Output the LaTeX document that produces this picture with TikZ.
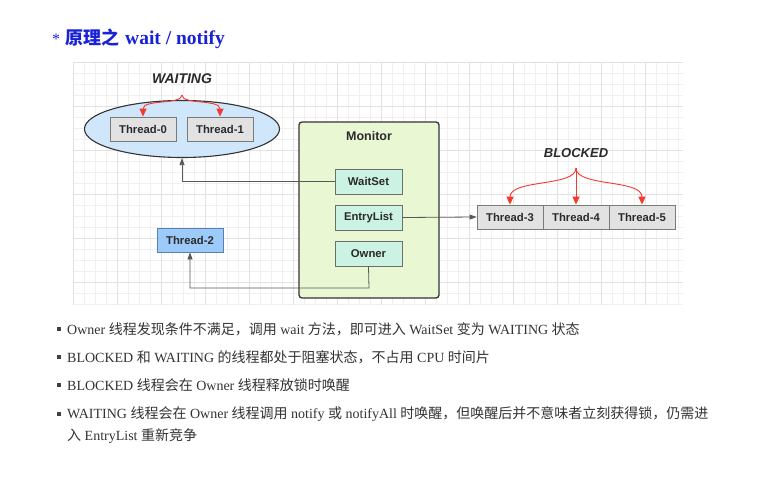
\documentclass[tikz,border=0pt]{standalone}
\usepackage{fontspec}
\setmainfont{Liberation Serif}
\newfontfamily\cjk{Noto Sans CJK SC}
\newfontfamily\dsans{Liberation Sans}
\usetikzlibrary{arrows.meta,shapes.geometric}
\newcommand\zh[1]{{\cjk #1}}
\definecolor{titleblue}{HTML}{1A22D8}
\definecolor{gridminor}{HTML}{F0F0F0}
\definecolor{gridmajor}{HTML}{E2E2E2}
\definecolor{graybox}{HTML}{E2E2E2}
\definecolor{grayedge}{HTML}{7A7A7A}
\definecolor{mintbox}{HTML}{CBF2E3}
\definecolor{monfill}{HTML}{E9F8D2}
\definecolor{ellfill}{HTML}{CFE6FB}
\definecolor{t2fill}{HTML}{9CCBFA}
\definecolor{t2edge}{HTML}{5A7FB0}
\definecolor{redarr}{HTML}{F23A2E}
\definecolor{txtgray}{HTML}{2A2A2A}
\tikzset{
  thr/.style={draw=grayedge, fill=graybox, line width=0.8pt, minimum width=66pt, minimum height=24pt, inner sep=0pt, font=\dsans\bfseries\fontsize{11.3}{13}\selectfont, text=txtgray},
  inbox/.style={draw=grayedge!90!black, fill=mintbox, line width=0.8pt, minimum width=67pt, minimum height=25pt, inner sep=0pt, font=\dsans\bfseries\fontsize{11.3}{13}\selectfont, text=txtgray},
  redline/.style={draw=redarr, line width=0.9pt, -{Triangle[length=8pt,width=7pt]}},
  conn/.style={draw=black!65, line width=0.8pt, -{Triangle[length=7pt,width=5pt]}},
  statelbl/.style={text=txtgray, inner sep=0pt},
  bullettext/.style={anchor=west, inner sep=0pt, font=\fontsize{14}{16}\selectfont, text=black!80},
  bulletsq/.style={fill=black!75, minimum size=4pt, inner sep=0pt}
}
\begin{document}
\begin{tikzpicture}[x=1pt,y=-1pt]
\useasboundingbox[fill=white] (0,0) rectangle (784,482);
% grid
\foreach \i in {0,...,55} {
  \pgfmathsetmacro\xx{73+11*\i}
  \draw[gridminor, line width=0.6pt] (\xx,62) -- (\xx,305);
}
\foreach \j in {0,...,22} {
  \pgfmathsetmacro\yy{62+11*\j}
  \draw[gridminor, line width=0.6pt] (73,\yy) -- (683,\yy);
}
\foreach \i in {0,...,13} {
  \pgfmathsetmacro\xx{73+44*\i}
  \draw[gridmajor, line width=0.7pt] (\xx,62) -- (\xx,305);
}
\foreach \j in {0,...,5} {
  \pgfmathsetmacro\yy{62+44*\j}
  \draw[gridmajor, line width=0.7pt] (73,\yy) -- (683,\yy);
}
% title
\node[anchor=base west, inner sep=0pt, text=titleblue] (title) at (52,44)
  {{\fontsize{16}{18}\selectfont *}\hspace{5pt}{\cjk\bfseries\fontsize{18}{20}\selectfont 原理之}\hspace{6pt}{\bfseries\fontsize{19.5}{20}\selectfont wait / notify}};
% WAITING
\node[ellipse, draw=black!80, fill=ellfill, line width=1.1pt, minimum width=195pt, minimum height=57pt] (ell) at (182,129) {};
\node[thr] (t0) at (143,129) {Thread-0};
\node[thr] (t1) at (220,129) {Thread-1};
\node[statelbl, font=\dsans\bfseries\itshape\fontsize{14}{16}\selectfont] (wlbl) at (182,79) {WAITING};
\coordinate (wap) at (182,95);
\draw[redline] (wap) .. controls (182,105) and (143,99) .. (t0.north);
\draw[redline] (wap) .. controls (182,105) and (220,99) .. (t1.north);
% Monitor
\node[draw=black!80, fill=monfill, line width=1.3pt, rounded corners=3pt, minimum width=140pt, minimum height=176pt, inner sep=0pt] (mon) at (369,210) {};
\node[font=\dsans\bfseries\fontsize{12.5}{14}\selectfont, text=txtgray] (monlbl) at (369,136) {Monitor};
\node[inbox] (ws) at (368.5,181.5) {WaitSet};
\node[inbox] (el) at (368.5,217.5) {EntryList};
\node[inbox] (ow) at (368.5,253.5) {Owner};
% BLOCKED
\node[thr] (t3) at (510,217) {Thread-3};
\node[thr] (t4) at (576,217) {Thread-4};
\node[thr] (t5) at (642,217) {Thread-5};
\node[statelbl, font=\dsans\bfseries\itshape\fontsize{13}{15}\selectfont] (blbl) at (576,153) {BLOCKED};
\coordinate (bap) at (576,168);
\draw[redline] (bap) .. controls (576,187) and (510,179) .. (t3.north);
\draw[redline] (bap) -- (t4.north);
\draw[redline] (bap) .. controls (576,187) and (642,179) .. (t5.north);
% Thread-2
\node[thr, draw=t2edge, fill=t2fill] (t2) at (190,240) {Thread-2};
% connectors
\draw[conn] (ws.west) -| (ell.south);
\draw[conn] (el.east) -- (t3.west);
\coordinate (owc) at (369,288);
\draw[conn] (ow.south) -- (owc) -| (t2.south);
% bullets
\node[bulletsq] (b1) at (59,329) {};
\node[bulletsq] (b2) at (59,357) {};
\node[bulletsq] (b3) at (59,385) {};
\node[bulletsq] (b4) at (59,414) {};
\node[bullettext] (l1) at (67,329) {Owner \zh{线程发现条件不满足，调用} wait \zh{方法，即可进入} WaitSet \zh{变为} WAITING \zh{状态}};
\node[bullettext] (l2) at (67,357) {BLOCKED \zh{和} WAITING \zh{的线程都处于阻塞状态，不占用} CPU \zh{时间片}};
\node[bullettext] (l3) at (67,385) {BLOCKED \zh{线程会在} Owner \zh{线程释放锁时唤醒}};
\node[bullettext] (l4) at (67,414) {WAITING \zh{线程会在} Owner \zh{线程调用} notify \zh{或} notifyAll \zh{时唤醒，但唤醒后并不意味者立刻获得锁，仍需进}};
\node[bullettext] (l5) at (67,436) {\zh{入} EntryList \zh{重新竞争}};
\end{tikzpicture}
\end{document}
